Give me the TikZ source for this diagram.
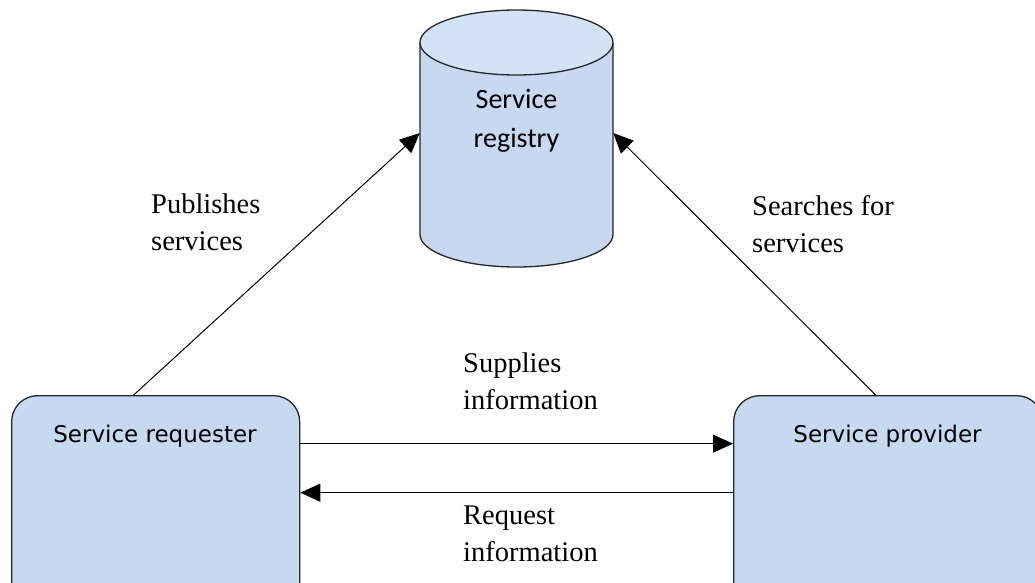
\documentclass[tikz,border=0pt]{standalone}
\usepackage{fontspec}
\setmainfont{Liberation Serif}
\newfontfamily\boxfont{DejaVu Sans}
\newfontfamily\regfont{Carlito}
\usetikzlibrary{arrows.meta}
\definecolor{boxblue}{HTML}{C6D9F1}
\definecolor{topblue}{HTML}{D3E2F5}
\begin{document}
\begin{tikzpicture}[x=1pt,y=-1pt,
  box/.style={draw=black!85, line width=1.3pt, fill=boxblue, rounded corners=26pt, inner sep=0pt},
  boxtext/.style={font=\boxfont\fontsize{23}{28}\selectfont, anchor=base, inner sep=0pt},
  lbl/.style={font=\fontsize{28.5}{37}\selectfont, align=left, anchor=north west, inner sep=0pt},
  conn/.style={line width=1pt, -{Triangle[length=20pt,width=18pt]}}]
\useasboundingbox (0,0) rectangle (1035,582);
\fill[white] (0,0) rectangle (1035,582);
\begin{scope}
\clip (0,0) rectangle (1035,582);
% boxes
\node[box, anchor=north west, minimum width=288pt, minimum height=230pt] (req) at (11,395) {};
\node[box, anchor=north west, minimum width=309pt, minimum height=230pt] (prov) at (733,395) {};
% cylinder
\node[inner sep=0pt, minimum width=193pt, minimum height=257pt] (reg) at (516.5,138.5) {};
\filldraw[fill=boxblue, line width=1.3pt, draw=black!85]
  (420,42.5) -- (420,234.5) arc[start angle=180, end angle=0, x radius=96.5, y radius=32.5] -- (613,42.5);
\filldraw[fill=topblue, line width=1.3pt, draw=black!85] (516.5,42.5) ellipse [x radius=96.5, y radius=32.5];
\end{scope}
% texts
\node[font=\regfont\fontsize{28}{39}\selectfont, align=center, anchor=north, inner sep=0pt] (regt) at (516.5,89) {Service\\registry};
\node[boxtext] (reqt) at (155,442) {Service requester};
\node[boxtext] (provt) at (887.5,442) {Service provider};
% labels
\node[lbl] (pub) at (151,194) {Publishes\\services};
\node[lbl] (sea) at (752,195) {Searches for\\services};
\node[lbl] (sup) at (463,353) {Supplies\\information};
\node[lbl] (rqi) at (463,506) {Request\\information};
% connectors
\draw[conn] ([xshift=-22pt]req.north) -- ([yshift=5.5pt]reg.west);
\draw[conn] ([xshift=-12.5pt]prov.north) -- ([yshift=5.5pt]reg.east);
\draw[conn] ([yshift=67pt]req.east) -- ([yshift=67pt]prov.west);
\draw[conn] ([yshift=18pt]prov.west) -- ([yshift=18pt]req.east);
\end{tikzpicture}
\end{document}
